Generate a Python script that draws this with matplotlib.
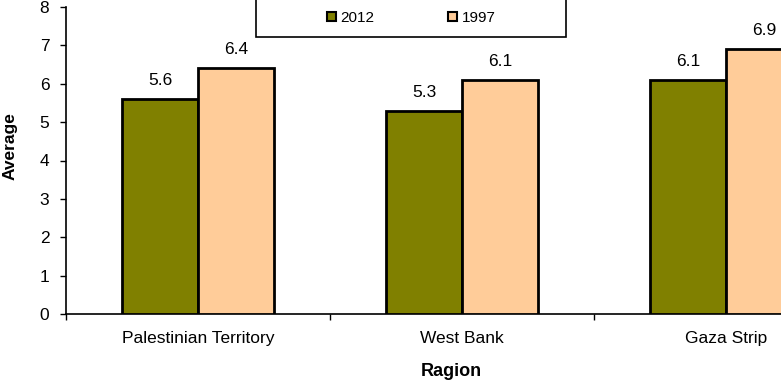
import matplotlib
matplotlib.use("Agg")
import matplotlib.pyplot as plt
import numpy as np
from matplotlib.patches import Patch, Rectangle

plt.rcParams['font.family'] = ['Liberation Sans', 'DejaVu Sans']

regions = ["Palestinian Territory", "West Bank", "Gaza Strip"]
series_names = ["2012", "1997"]
values_2012 = [5.6, 5.3, 6.1]
values_1997 = [6.4, 6.1, 6.9]
colors = ["#808000", "#FFCC99"]

W, H = 781, 381
fig = plt.figure(figsize=(W/100, H/100), dpi=100)
ax = fig.add_axes([66/W, 67/H, 792/W, 307/H])

x = np.arange(len(regions))
bw = 0.288
for i, (vals, c) in enumerate(zip([values_2012, values_1997], colors)):
    pos = x + (i - 0.5) * bw
    ax.bar(pos, vals, width=bw, color=c, edgecolor="black", linewidth=2, zorder=3)
    for p, v in zip(pos, vals):
        ax.annotate(f"{v:.1f}", (p, v), xytext=(0, 8), textcoords="offset points",
                    ha="center", va="bottom", fontsize=12.5)

ax.set_xlim(-0.5, len(regions) - 0.5)
ax.set_ylim(0, 8)
ax.set_yticks(range(0, 9))
ax.tick_params(axis='y', labelsize=12.5, length=4, width=1, direction='out', pad=8)
ax.set_xticks(x)
ax.set_xticklabels(regions, fontsize=12.5)
ax.tick_params(axis='x', length=0, pad=12)
ax.set_xticks(np.arange(-0.5, len(regions), 1.0), minor=True)
ax.tick_params(axis='x', which='minor', length=4, width=1, direction='out')
for s in ["top", "right"]:
    ax.spines[s].set_visible(False)
for s in ["left", "bottom"]:
    ax.spines[s].set_linewidth(1.2)

fig.text(10/W, 1 - 146/H, "Average", rotation=90, ha="center", va="center",
         fontsize=12.5, fontweight="bold")
fig.text(451/W, 1 - 371/H, "Ragion", ha="center", va="center",
         fontsize=13, fontweight="bold")

fig.patches.append(Rectangle((256/W, 1 - 37/H), 310/W, 40/H, transform=fig.transFigure,
                             facecolor="white", edgecolor="black", linewidth=1.2))
handles = [Patch(facecolor=c, edgecolor="black", linewidth=1.5) for c in colors]
fig.legend(handles, series_names, loc="center", bbox_to_anchor=(411/W, 1 - 18/H),
           ncol=2, frameon=False, fontsize=11, handlelength=0.6, handleheight=0.6,
           handletextpad=0.3, columnspacing=4.8)

fig.savefig("out.png", dpi=100)
